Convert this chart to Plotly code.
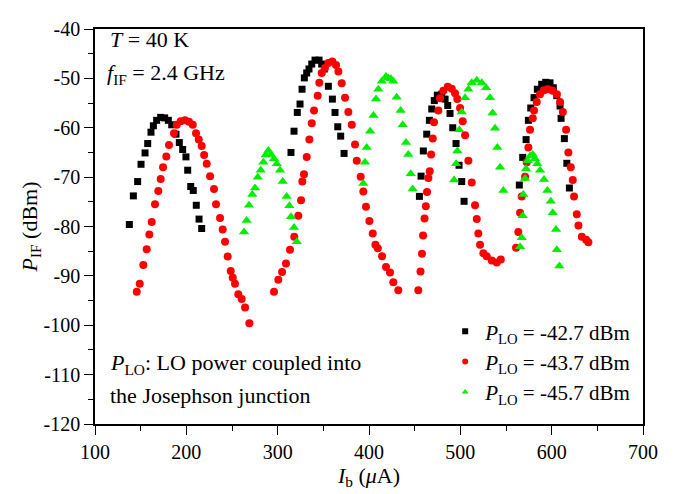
import plotly.graph_objects as go

# ---- data: I_b (uA) and P_IF (dBm) for three LO powers ----
ib_427 = [137.6, 142.0, 146.7, 150.4, 154.8, 157.7, 161.3, 163.9, 167.5, 171.9, 176.3, 180.3, 184.0, 188.7, 192.3, 196.0, 199.6, 201.5, 204.8, 207.6, 210.9, 213.9, 216.8,
          314.6, 317.9, 321.5, 324.5, 326.7, 329.2, 331.8, 334.3, 337.3, 340.9, 345.3, 348.2, 351.1, 355.5, 359.9, 362.8, 365.8, 369.0, 372.7,
          455.2, 457.0, 459.5, 463.2, 466.1, 468.7, 471.5, 474.8, 479.6, 483.3, 486.2, 488.7, 491.7, 495.3, 498.6, 501.5, 504.1,
          564.6, 568.3, 572.0, 574.5, 577.1, 580.7, 584.3, 589.1, 593.5, 598.2, 601.8, 605.6, 609.2, 610.3, 613.9, 616.6, 619.4]
pif_427 = [-79.6, -73.8, -70.9, -67.4, -65.1, -63.2, -60.9, -59.6, -58.5, -57.9, -58.0, -58.5, -59.4, -61.3, -63.0, -64.4, -65.9, -68.6, -71.9, -72.7, -75.7, -78.5, -80.4,
           -65.0, -60.7, -56.9, -55.2, -52.2, -49.9, -48.9, -48.1, -47.1, -46.3, -46.3, -47.1, -48.1, -51.6, -54.2, -56.9, -59.8, -61.7, -65.2,
           -73.9, -69.8, -64.7, -61.3, -58.5, -56.2, -54.5, -53.4, -53.2, -54.2, -55.5, -57.1, -60.0, -63.2, -67.6, -70.9, -74.9,
           -71.6, -66.0, -62.4, -58.5, -56.0, -53.9, -52.2, -51.2, -50.8, -50.9, -51.9, -53.5, -55.6, -58.1, -62.2, -67.2, -72.2]

ib_437 = [145.7, 149.0, 152.9, 156.6, 159.5, 162.1, 165.7, 169.3, 171.9, 174.5, 178.1, 181.0, 186.5, 189.5, 193.8, 198.6, 202.9, 207.0, 210.6, 213.6, 216.8, 219.5, 222.3, 226.0, 230.3, 232.5, 236.9, 239.8, 242.4, 245.3, 248.6, 250.8, 253.3, 256.9, 260.6, 264.3, 269.0,
          296.0, 300.7, 304.8, 309.1, 313.5, 318.2, 322.6, 325.6, 327.0, 328.8, 331.8, 334.7, 337.3, 339.8, 343.8, 345.6, 348.2, 351.8, 355.5, 359.9, 363.9, 366.5, 370.1, 373.8, 377.4, 381.1, 384.7, 386.6, 390.9, 393.8, 396.7, 400.4, 404.1, 407.0, 409.6, 414.3, 418.6, 423.0, 426.6, 432.1,
          454.0, 456.4, 458.0, 459.2, 460.8, 462.2, 463.5, 465.0, 466.5, 468.0, 469.8, 471.2, 475.9, 477.8, 481.4, 486.2, 490.6, 494.2, 496.7, 499.7, 502.6, 505.2, 508.8, 512.5, 516.1, 518.0, 519.7, 521.6, 525.2, 528.9, 534.4, 539.9, 544.3,
          561.0, 563.5, 565.4, 567.2, 570.9, 572.7, 574.5, 576.3, 579.3, 580.7, 583.6, 587.2, 591.6, 596.3, 601.1, 605.6, 609.2, 612.2, 615.8, 618.3, 620.9, 623.1, 624.5, 627.5, 629.3, 633.0, 637.7, 640.2]
pif_437 = [-93.2, -91.6, -87.8, -84.6, -81.6, -79.1, -75.5, -72.8, -70.4, -68.0, -65.8, -63.5, -61.1, -59.4, -58.7, -58.5, -58.8, -59.4, -61.1, -62.4, -63.7, -65.5, -67.3, -69.8, -72.4, -75.5, -78.3, -80.6, -83.1, -86.1, -89.0, -90.4, -91.6, -93.7, -94.7, -96.4, -99.6,
           -93.2, -90.8, -89.2, -87.5, -84.7, -82.1, -77.8, -74.7, -70.9, -69.4, -65.9, -62.4, -59.1, -56.5, -53.5, -50.9, -48.9, -47.9, -46.9, -46.6, -47.3, -48.6, -51.0, -53.9, -56.8, -59.4, -63.4, -66.7, -69.9, -72.9, -76.0, -78.9, -81.4, -83.7, -84.4, -86.0, -88.2, -89.3, -91.3, -92.9,
           -92.9, -89.1, -85.5, -81.8, -78.4, -75.9, -73.0, -70.2, -68.8, -65.4, -62.2, -58.9, -56.5, -54.0, -52.5, -51.7, -52.1, -53.0, -54.2, -56.0, -58.7, -61.5, -66.7, -71.1, -75.7, -78.5, -81.4, -83.7, -85.4, -86.0, -86.9, -87.3, -86.7,
           -84.3, -81.1, -77.2, -73.9, -69.9, -67.0, -64.0, -60.4, -58.1, -56.5, -54.8, -53.2, -52.4, -52.2, -52.5, -53.2, -54.8, -56.8, -60.4, -65.0, -68.0, -70.6, -73.9, -77.5, -79.8, -82.1, -82.7, -83.2]

ib_457 = [263.2, 266.1, 268.6, 272.2, 275.2, 278.2, 281.4, 284.3, 286.9, 289.8, 292.7, 296.0, 299.0, 302.6, 305.5, 309.9, 312.8, 314.6, 317.9, 320.9,
          393.8, 395.5, 397.5, 401.2, 404.9, 407.7, 410.2, 414.0, 418.6, 421.2, 424.0, 426.6, 430.3, 434.6, 436.9, 440.5, 443.0, 445.7, 447.8,
          493.1, 495.3, 496.7, 498.9, 501.5, 505.2, 508.8, 512.5, 518.0, 523.5, 528.2, 532.5, 535.3, 538.0, 540.5, 543.5, 547.1,
          565.4, 567.2, 568.3, 569.0, 570.9, 572.0, 573.8, 576.3, 579.3, 581.8, 584.3, 587.3, 591.6, 595.3, 599.0, 601.2, 604.8, 605.6, 608.4]
pif_457 = [-81.1, -78.8, -75.7, -73.5, -72.2, -70.0, -68.6, -67.0, -65.5, -64.6, -65.4, -66.3, -67.3, -68.6, -70.9, -73.9, -75.8, -78.0, -80.2, -83.1,
           -71.3, -67.0, -64.0, -60.7, -57.5, -54.2, -52.2, -50.6, -49.6, -49.9, -50.1, -50.6, -53.8, -56.5, -59.4, -63.0, -65.4, -69.3, -72.4,
           -70.6, -67.3, -64.7, -60.4, -56.8, -53.9, -52.2, -50.9, -50.4, -50.9, -51.9, -53.9, -57.0, -60.1, -64.0, -68.0, -72.7,
           -84.1, -82.3, -77.8, -73.5, -70.3, -68.3, -66.7, -65.7, -65.4, -66.3, -67.3, -68.6, -70.5, -72.7, -74.9, -77.2, -80.6, -84.7, -88.0]

series_names = ["<i>P</i><sub>LO</sub> = -42.7 dBm",
                "<i>P</i><sub>LO</sub> = -43.7 dBm",
                "<i>P</i><sub>LO</sub> = -45.7 dBm"]

x_ticks = [100, 200, 300, 400, 500, 600, 700]
x_ticklabels = ["100", "200", "300", "400", "500", "600", "700"]
y_ticks = [-120, -110, -100, -90, -80, -70, -60, -50, -40]
y_ticklabels = ["-120", "-110", "-100", "-90", "-80", "-70", "-60", "-50", "-40"]

FONT = "Liberation Serif, Times New Roman, serif"
symbols = ["square", "circle", "triangle-up"]
colors = ["#000000", "#ff0000", "#00ee00"]
sizes = [7, 8, 9]

fig = go.Figure()
for xs, ys, sym, col, sz in zip([ib_427, ib_437, ib_457], [pif_427, pif_437, pif_457], symbols, colors, sizes):
    fig.add_trace(go.Scatter(x=xs, y=ys, mode="markers", showlegend=False,
                             marker=dict(symbol=sym, size=sz, color=col, line=dict(width=0))))
# legend entries (smaller symbols, as in the reference legend)
for name, sym, col in zip(series_names, symbols, colors):
    fig.add_trace(go.Scatter(x=[None], y=[None], mode="markers", name=name,
                             marker=dict(symbol=sym, size=6, color=col, line=dict(width=0))))

axis_common = dict(showgrid=False, zeroline=False, showline=True, linecolor="black", linewidth=1.5,
                   mirror=True, ticks="outside", ticklen=9, tickwidth=1.2, tickcolor="black",
                   tickfont=dict(family=FONT, size=20, color="black"))

fig.update_xaxes(range=[100, 700], tickvals=x_ticks, ticktext=x_ticklabels,
                 minor=dict(dtick=50, ticks="outside", ticklen=5, tickcolor="black", tickwidth=1.2),
                 title=dict(text="<i>I</i><sub>b</sub> (<i>μ</i>A)", font=dict(family=FONT, size=22, color="black"), standoff=0),
                 **axis_common)
fig.update_yaxes(range=[-120, -40], tickvals=y_ticks, ticktext=y_ticklabels,
                 minor=dict(dtick=5, ticks="outside", ticklen=5, tickcolor="black", tickwidth=1.2),
                 title=dict(text="<i>P</i><sub>IF</sub> (dBm)", font=dict(family=FONT, size=22, color="black"), standoff=0),
                 **axis_common)

ann_font = dict(family=FONT, size=22, color="black")
fig.add_annotation(xref="paper", yref="paper", x=0.023, y=0.974, xanchor="left", yanchor="middle",
                   text="<i>T</i> = 40 K", showarrow=False, font=ann_font)
fig.add_annotation(xref="paper", yref="paper", x=0.019, y=0.886, xanchor="left", yanchor="middle",
                   text="<i>f</i><sub>IF</sub> = 2.4 GHz", showarrow=False, font=ann_font)
fig.add_annotation(xref="paper", yref="paper", x=0.023, y=0.151, xanchor="left", yanchor="middle",
                   text="<i>P</i><sub>LO</sub>: LO power coupled into", showarrow=False, font=ann_font)
fig.add_annotation(xref="paper", yref="paper", x=0.023, y=0.072, xanchor="left", yanchor="middle",
                   text="the Josephson junction", showarrow=False, font=ann_font)

# page body has an 8 px default margin; size/margins compensate so the plot frame
# lands at x 95..643, y 18..424 in the 688x494 window
fig.update_layout(
    width=680, height=486,
    margin=dict(l=87, r=45, t=10, b=70),
    paper_bgcolor="white", plot_bgcolor="white",
    font=dict(family=FONT, size=20, color="black"),
    showlegend=True,
    legend=dict(x=0.639, y=0.03, xanchor="left", yanchor="bottom",
                bgcolor="rgba(0,0,0,0)", borderwidth=0,
                font=dict(family=FONT, size=21, color="black"),
                tracegroupgap=0),
)

fig.write_html("out.html")
